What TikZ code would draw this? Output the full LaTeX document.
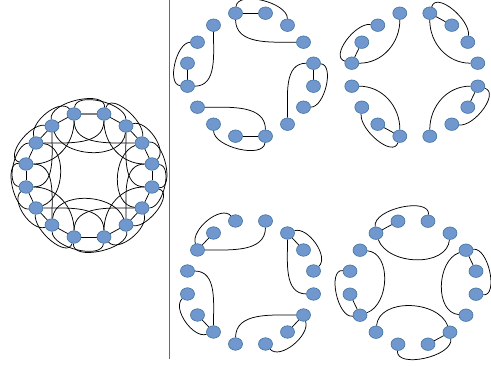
\documentclass[tikz,border=0pt]{standalone}
\usepackage{tikz}
\usepackage{xcolor}
\usetikzlibrary{shapes.geometric}
\pgfdeclarelayer{edges}
\pgfsetlayers{edges,main}
\definecolor{vfill}{RGB}{112,152,206}
\definecolor{vline}{RGB}{65,113,156}
\definecolor{sepgray}{RGB}{105,105,105}
\tikzset{
  vertex/.style={ellipse, draw=vline, fill=vfill, line width=0.6pt,
    minimum width=14pt, minimum height=12.5pt, inner sep=0pt},
  edge/.style={black, line width=0.75pt},
  topedge/.style={gray, line width=1.6pt},
  sepline/.style={sepgray, line width=1.1pt}
}
% sixteen vertices round a centre
\newcommand{\ring}[3]{%
  \begin{scope}[shift={(#2,#3)}]
    \node[vertex] (#10) at (15,61.5) {};
    \node[vertex] (#11) at (37,49.5) {};
    \node[vertex] (#12) at (53,32.5) {};
    \node[vertex] (#13) at (63,11.5) {};
    \node[vertex] (#14) at (63,-11.5) {};
    \node[vertex] (#15) at (53,-32.5) {};
    \node[vertex] (#16) at (37,-49.5) {};
    \node[vertex] (#17) at (15,-61.5) {};
    \node[vertex] (#18) at (-15,-61.5) {};
    \node[vertex] (#19) at (-37,-49.5) {};
    \node[vertex] (#110) at (-53,-32.5) {};
    \node[vertex] (#111) at (-63,-11.5) {};
    \node[vertex] (#112) at (-63,11.5) {};
    \node[vertex] (#113) at (-53,32.5) {};
    \node[vertex] (#114) at (-37,49.5) {};
    \node[vertex] (#115) at (-15,61.5) {};
  \end{scope}}
% star from vertex c to c+1, c+2 (outside), c+3 (inside)
\newcommand{\vstar}[8][edge]{%
  \pgfmathtruncatemacro\ka{mod(#3+1,16)}%
  \pgfmathtruncatemacro\kb{mod(#3+2,16)}%
  \pgfmathtruncatemacro\kc{mod(#3+3,16)}%
  \pgfmathsetmacro\outa{78.75-22.5*#3+#4}%
  \pgfmathsetmacro\ina{78.75-22.5*(#3+2)+#5}%
  \pgfmathsetmacro\outb{78.75-22.5*#3+180+#6}%
  \pgfmathsetmacro\inb{78.75-22.5*(#3+3)+180+#7}%
  \begin{pgfonlayer}{edges}
    \draw[#1] (#2#3) -- (#2\ka);
    \draw[edge] (#2#3) to[out=\outa, in=\ina, looseness=#8] (#2\kb);
    \draw[edge] (#2#3) to[out=\outb, in=\inb] (#2\kc);
  \end{pgfonlayer}}

\begin{document}
\begin{tikzpicture}[x=1pt,y=1pt]
  \useasboundingbox (0,0) rectangle (491,365);
  \draw[sepline] (169.5,365) -- (169.5,6.5);
%%
  \ring{g}{89}{189.5}
  \ring{a}{250.5}{290.3}
  \ring{b}{414.8}{290.3}
  \ring{c}{250.5}{82.5}
  \ring{d}{413}{82.3}
%%
  \vstar{a}{3}{-16}{34}{-11}{-34}{0.8}
  \vstar{a}{7}{-16}{34}{-11}{-34}{0.8}
  \vstar{a}{11}{-16}{34}{-11}{-34}{0.8}
  \vstar{a}{15}{-16}{34}{-11}{-34}{0.8}
%%
  \vstar{b}{0}{-5}{50}{11}{-11}{0.9}
  \vstar{b}{4}{-5}{50}{11}{-11}{0.9}
  \vstar{b}{8}{-5}{50}{11}{-11}{0.9}
  \vstar{b}{12}{-5}{50}{11}{-11}{0.9}
%%
  \vstar{c}{1}{-38}{30}{34}{11}{0.85}
  \vstar{c}{5}{-38}{30}{34}{11}{0.85}
  \vstar{c}{9}{-38}{30}{34}{11}{0.85}
  \vstar{c}{13}{-38}{30}{34}{11}{0.85}
%%
  \vstar{d}{2}{-26}{6}{-14}{29}{0.85}
  \vstar{d}{6}{-26}{6}{-14}{29}{0.85}
  \vstar{d}{10}{-26}{6}{-14}{29}{0.85}
  \vstar{d}{14}{-26}{6}{-14}{29}{0.85}
%%
  \vstar{g}{3}{-16}{34}{-11}{-34}{0.8}
  \vstar{g}{7}{-16}{34}{-11}{-34}{0.8}
  \vstar{g}{11}{-16}{34}{-11}{-34}{0.8}
  \vstar[topedge]{g}{15}{-16}{34}{-11}{-34}{0.8}
  \vstar{g}{0}{-5}{50}{11}{-11}{0.9}
  \vstar{g}{4}{-5}{50}{11}{-11}{0.9}
  \vstar{g}{8}{-5}{50}{11}{-11}{0.9}
  \vstar{g}{12}{-5}{50}{11}{-11}{0.9}
  \vstar{g}{1}{-38}{30}{34}{11}{0.85}
  \vstar{g}{5}{-38}{30}{34}{11}{0.85}
  \vstar{g}{9}{-38}{30}{34}{11}{0.85}
  \vstar{g}{13}{-38}{30}{34}{11}{0.85}
  \vstar{g}{2}{-26}{6}{-14}{29}{0.85}
  \vstar{g}{6}{-26}{6}{-14}{29}{0.85}
  \vstar{g}{10}{-26}{6}{-14}{29}{0.85}
  \vstar{g}{14}{-26}{6}{-14}{29}{0.85}
\end{tikzpicture}
\end{document}
